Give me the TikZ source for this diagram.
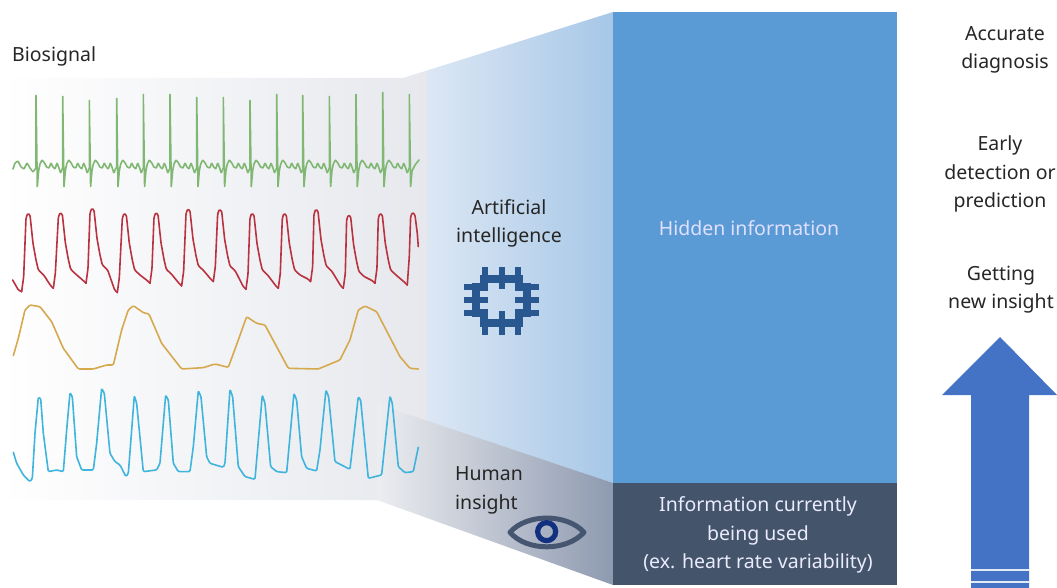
\documentclass[tikz,border=0pt]{standalone}
\usepackage{fontspec}
\setmainfont{Noto Sans}
\definecolor{hidden}{HTML}{5B9BD5}
\definecolor{used}{HTML}{44546A}
\definecolor{arrowblue}{HTML}{4472C4}
\definecolor{chipblue}{HTML}{28588F}
\definecolor{ecg}{HTML}{80B873}
\definecolor{ppg}{HTML}{B8323F}
\definecolor{resp}{HTML}{D6A94E}
\definecolor{spo}{HTML}{3FB4DC}
\definecolor{panelmid}{HTML}{F5F5F6}
\definecolor{panelend}{HTML}{E6E8ED}
\definecolor{funnelA}{HTML}{DCE7F4}
\definecolor{funnelB}{HTML}{A6C7E7}
\definecolor{bandA}{HTML}{ECEDF0}
\definecolor{bandB}{HTML}{8E9AB0}
\definecolor{eyegray}{HTML}{465670}
\definecolor{pupil}{HTML}{12307F}
\tikzset{
  lab/.style={font=\fontsize{19.5}{28.5}\selectfont,align=center,text=black!85,inner sep=0pt},
  wave/.style={line width=1.6pt,line join=round,line cap=round,rounded corners=1.2pt},
  zoomA/.style={shift={(0,70)},x=0.3333pt,y=-0.3333pt},
  zoomB/.style={shift={(0,290)},x=0.3333pt,y=-0.3333pt},
  zoomC/.style={shift={(410,260)},x=0.3333pt,y=-0.3333pt},
}
\begin{document}
\begin{tikzpicture}[x=1pt,y=-1pt]
\useasboundingbox (0,0) rectangle (1057,588);
% backdrop and funnel
\shade[left color=white,middle color=panelmid,right color=panelend] (0,78) -- (403,78) -- (427,70.5) -- (427,421) -- (377,404) -- (377,500) -- (0,500) -- cycle;
\shade[left color=funnelA,right color=funnelB] (427,70.5) -- (613,12) -- (613,483) -- (427,421) -- cycle;
\shade[left color=bandA,right color=bandB] (377,404) -- (613,483) -- (613,585) -- (377,500) -- cycle;
\node[fill=hidden,minimum width=284pt,minimum height=471pt,inner sep=0pt] (hiddenbox) at (755,247.5) {};
\node[fill=used,minimum width=284pt,minimum height=102pt,inner sep=0pt] (usedbox) at (755,534) {};
% arrow
\fill[arrowblue] (1000,337) -- (1057,395) -- (1029,395) -- (1029,588) -- (971,588) -- (971,395) -- (942,395) -- cycle;
\draw[white!85!arrowblue,line width=1.5pt] (971,570) -- (1029,570) (971,582) -- (1029,582);
% ECG
\begin{scope}[wave,ecg,rounded corners=0.5pt]
\foreach \r/\p in {36/95,62.7/96,89.3/100,116.7/98,143.3/94,170/94,196.7/97,223.3/97,250/100,276.7/94,302.7/95,329.3/96,356/94,382.7/92}{
  \draw (\r,168) -- (\r,\p) -- (\r+1.3,187) -- (\r+2.6,171) -- (\r+4,164) -- (\r+6,160) -- (\r+8.5,163) -- (\r+10.5,167) -- (\r+13,168) -- (\r+15,163) -- (\r+17,167) -- (\r+19,169) -- (\r+21,163) -- (\r+23,168) -- (\r+24.5,173) -- (\r+26.7,168);
}
\draw (409.3,168) -- (409.3,94) -- (410.6,187) -- (412,171) -- (415,165) -- (419,160);
\draw (13,169) -- (15,163) -- (18,161) -- (21,167) -- (24,169) -- (27,163) -- (30,168) -- (33,172) -- (36,168);
\end{scope}
% PPG
\begin{scope}[wave,ppg,zoomA]
\foreach \ta/\tb/\pa/\pb/\tc/\td in {65/665/83/430/160/655,160/655/180/428/258/640,258/640/275/415/352/668,352/668/372/430/450/640,450/640/467/428/545/648,545/648/563/417/640/635,640/635/658/418/738/658,738/658/755/430/835/655,835/655/852/430/932/635,932/635/947/418/1030/655,1030/655/1045/435/1125/640,1125/640/1140/430/1222/645}{
  \draw (\ta,\tb) -- (\ta+6,\tb-45) -- (\pa-5,\pb+15) -- (\pa,\pb) -- (\pa+7,\pb+5) -- (\pa+16,\pb+90) -- (\pa+25,\pb+140) -- (\pa+32,\pb+170) -- (\pa+48,\pb+185) -- (\tc-8,\td-8) -- (\tc,\td);
}
\draw (38,630) -- (55,660) -- (65,665);
\draw (1222,645) -- (1228,560) -- (1232,440) -- (1238,427) -- (1245,435) -- (1252,490) -- (1255,530);
\end{scope}
% respiration
\draw[wave,resp,zoomB] (40,197) -- (55,145) -- (75,60) -- (90,45) -- (120,50) -- (155,95) -- (190,175) -- (235,237) -- (280,237) -- (320,225) -- (340,225) -- (365,120) -- (385,60) -- (400,47) -- (430,68) -- (447,72) -- (485,160) -- (545,237) -- (610,233) -- (645,222) -- (685,232) -- (715,150) -- (740,80) -- (770,100) -- (795,105) -- (865,235) -- (955,237) -- (1020,210) -- (1050,150) -- (1075,60) -- (1095,48) -- (1130,65) -- (1200,200) -- (1230,235) -- (1255,237);
% blue wave
\draw[wave,spo,zoomB] (40,487) -- (50,520) -- (70,555) -- (90,575) -- (97,565) -- (105,430) -- (115,322) -- (122,325) -- (130,430) -- (145,545) -- (170,540) -- (190,545) -- (200,420) -- (210,308) -- (217,320) -- (230,500) -- (245,540) -- (280,540) -- (290,460) -- (305,295) -- (313,310) -- (330,490) -- (345,515) -- (360,525) -- (378,560) -- (385,550) -- (403,317) -- (410,340) -- (430,545) -- (470,540) -- (480,520) -- (497,315) -- (505,330) -- (520,520) -- (535,545) -- (570,545) -- (580,470) -- (595,302) -- (603,320) -- (620,500) -- (630,520) -- (670,532) -- (675,520) -- (690,298) -- (698,320) -- (715,530) -- (735,560) -- (765,568) -- (787,315) -- (795,340) -- (812,530) -- (830,545) -- (860,548) -- (882,310) -- (890,330) -- (905,500) -- (920,535) -- (950,543) -- (960,480) -- (978,300) -- (986,320) -- (1005,515) -- (1050,538) -- (1075,320) -- (1082,330) -- (1105,565) -- (1145,555) -- (1170,318) -- (1177,340) -- (1195,530) -- (1215,548) -- (1240,545) -- (1255,472);
% chip icon
\begin{scope}[chipblue]
\draw[line width=8.5pt,line join=miter] (484,279) -- (519,279) -- (519,287) -- (527,287) -- (527,313) -- (519,313) -- (519,323) -- (484,323) -- (484,313) -- (476,313) -- (476,287) -- (484,287) -- cycle;
\draw[line width=6pt] (485,267) -- (485,284) (501.7,267) -- (501.7,289) (518,267) -- (518,284);
\draw[line width=6pt] (485,318) -- (485,335) (501.7,311) -- (501.7,335) (518,318) -- (518,335);
\draw[line width=6pt] (464,286.7) -- (480,286.7) (464,299.5) -- (488,299.5) (464,313) -- (480,313);
\draw[line width=6pt] (523,286.7) -- (539,286.7) (515,299.5) -- (539,299.5) (523,313) -- (539,313);
\end{scope}
% eye icon
\begin{scope}[zoomC]
\draw[eyegray,line width=5pt,line join=round] (300,817) .. controls (350,760) and (470,760) .. (522,817) .. controls (470,875) and (350,875) .. (300,817) -- cycle;
\draw[pupil,line width=5.2pt] (410,815) circle (27);
\end{scope}
% labels
\node[lab,anchor=west] (biosignal) at (12,56) {Biosignal};
\node[lab] (ai) at (509,223.5) {Artificial\\intelligence};
\node[lab,align=left,anchor=west] (human) at (455,490.5) {Human\\insight};
\node[lab,text=blue!12!white] (hiddenlab) at (749,228) {Hidden information};
\node[lab,text=white!92!blue] (usedlab) at (758,535) {Information currently\\being used\\(ex. heart rate variability)};
\node[lab] (acc) at (1005,50) {Accurate\\diagnosis};
\node[lab] (early) at (1000,174) {Early\\detection or\\prediction};
\node[lab] (insight) at (1001,289.5) {Getting\\new insight};
\end{tikzpicture}
\end{document}
